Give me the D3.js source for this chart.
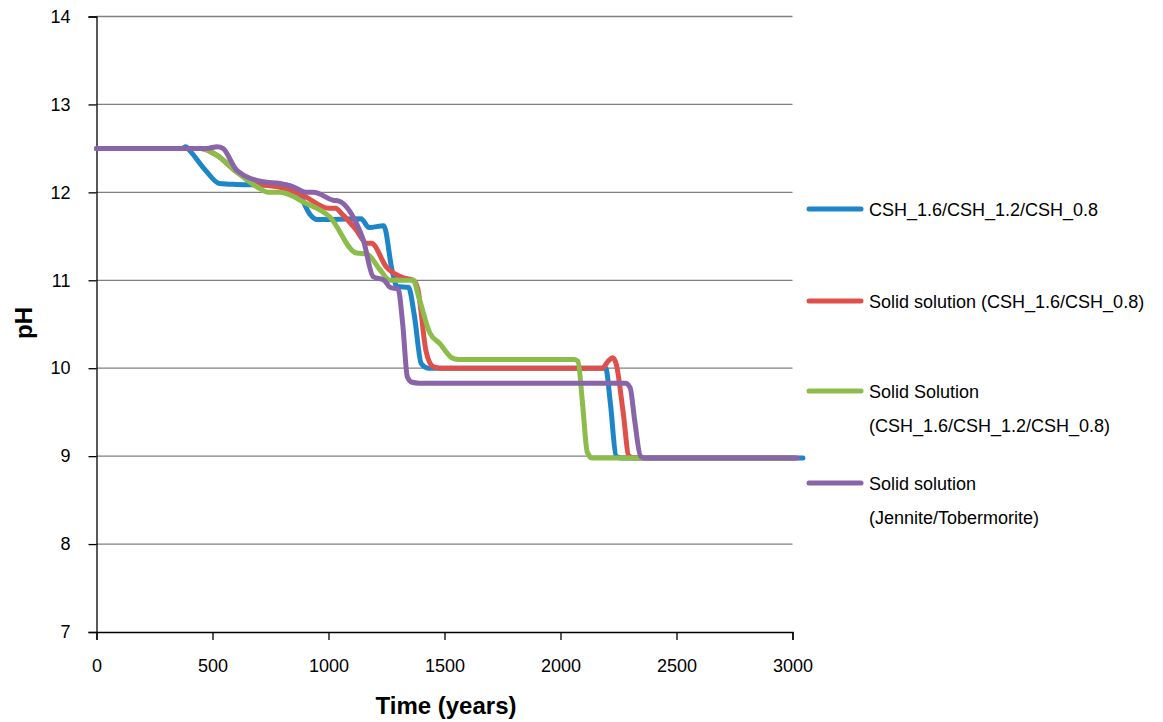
<!DOCTYPE html>
<html>
<head>
<meta charset="utf-8">
<script src="https://cdn.jsdelivr.net/npm/d3@7"></script>
<style>
  body { margin: 0; background: #fff; }
  svg text { font-family: "Liberation Sans", Arial, sans-serif; fill: #000; }
</style>
</head>
<body>
<div id="chart"></div>
<script>
// data: [time (years), pH]
const blue = [[0,12.5],[370,12.5],[385,12.52],[400,12.48],[470,12.25],[530,12.1],[600,12.09],[820,12.08],[870,12.0],[920,11.75],[950,11.69],[1140,11.7],[1175,11.6],[1238,11.62],[1275,11.1],[1295,10.93],[1345,10.92],[1370,10.6],[1400,10.05],[1430,10.0],[2195,10.0],[2215,9.6],[2240,9.0],[2260,8.98],[3045,8.98]]
const red = [[0,12.5],[450,12.5],[520,12.42],[600,12.24],[700,12.1],[800,12.05],[900,11.95],[1000,11.82],[1030,11.82],[1060,11.75],[1120,11.57],[1165,11.42],[1185,11.42],[1250,11.15],[1320,11.03],[1365,11.0],[1385,10.9],[1420,10.2],[1450,10.02],[1480,10.0],[2180,10.0],[2205,10.08],[2225,10.12],[2240,10.05],[2270,9.5],[2295,9.0],[2320,8.98],[3010,8.98]]
const green = [[0,12.5],[450,12.5],[530,12.4],[605,12.23],[700,12.05],[740,12.0],[790,12.0],[900,11.88],[1006,11.72],[1120,11.31],[1165,11.3],[1222,11.12],[1265,11.0],[1365,11.0],[1390,10.8],[1437,10.4],[1480,10.28],[1531,10.12],[1560,10.1],[2060,10.1],[2075,10.08],[2095,9.6],[2115,9.05],[2135,8.98],[3010,8.98]]
const purple = [[0,12.5],[480,12.5],[520,12.52],[545,12.5],[605,12.25],[718,12.12],[790,12.1],[850,12.06],[906,12.0],[935,12.0],[1020,11.91],[1045,11.9],[1120,11.65],[1150,11.46],[1193,11.04],[1240,11.0],[1265,10.92],[1300,10.9],[1320,10.5],[1340,9.9],[1360,9.84],[1390,9.83],[2280,9.83],[2300,9.78],[2320,9.4],[2345,9.0],[2365,8.98],[3020,8.98]]

const seriesNames = ["CSH_1.6/CSH_1.2/CSH_0.8", "Solid solution (CSH_1.6/CSH_0.8)", "Solid Solution|(CSH_1.6/CSH_1.2/CSH_0.8)", "Solid solution|(Jennite/Tobermorite)"]
const seriesColors = ["#1c86c8", "#e0504b", "#8cbd4b", "#8a64a8"]
const xTicks = [0, 500, 1000, 1500, 2000, 2500, 3000]
const yTicks = [7, 8, 9, 10, 11, 12, 13, 14]

// dimensions
const W = 1163, H = 722
const plotLeft = 96.5, plotRight = 792.5, plotTop = 16.5, plotBottom = 632

const svg = d3.select("#chart").append("svg").attr("width", W).attr("height", H)

const x = d3.scaleLinear().domain([0, 3000]).range([plotLeft, plotRight])
const y = d3.scaleLinear().domain([7, 14]).range([plotBottom, plotTop])

// gridlines
svg.append("g").selectAll("line").data(yTicks.slice(1)).join("line")
   .attr("x1", plotLeft).attr("x2", plotRight).attr("y1", d => y(d)).attr("y2", d => y(d))
   .attr("stroke", "#808080").attr("stroke-width", 1.3)

// y axis
const yAxis = svg.append("g").attr("transform", `translate(${plotLeft},0)`)
  .call(d3.axisLeft(y).tickValues(yTicks).tickFormat(d3.format("d")).tickSize(8).tickPadding(18))
yAxis.select(".domain").attr("stroke", "#000").attr("stroke-width", 1.3)
yAxis.selectAll(".tick line").attr("stroke", "#000").attr("stroke-width", 1.3)
yAxis.selectAll(".tick text").style("font-size", "18px")

// x axis
const xAxis = svg.append("g").attr("transform", `translate(0,${plotBottom})`)
  .call(d3.axisBottom(x).tickValues(xTicks).tickFormat(d3.format("d")).tickSize(8).tickPadding(19))
xAxis.select(".domain").attr("stroke", "#000").attr("stroke-width", 1.3)
xAxis.selectAll(".tick line").attr("stroke", "#000").attr("stroke-width", 1.3)
xAxis.selectAll(".tick text").style("font-size", "18px")

// lines
const line = d3.line().x(d => x(d[0])).y(d => y(d[1])).curve(d3.curveMonotoneX)
const allSeries = [blue, red, green, purple]
svg.append("g").selectAll("path").data(allSeries).join("path")
   .attr("d", line).attr("fill", "none")
   .attr("stroke", (d, i) => seriesColors[i]).attr("stroke-width", 5)
   .attr("stroke-linecap", "round").attr("stroke-linejoin", "round")

// axis titles
svg.append("text").attr("x", 446).attr("y", 714).attr("text-anchor", "middle")
   .style("font-size", "24px").style("font-weight", "bold").text("Time (years)")
svg.append("text").attr("transform", "translate(32,323) rotate(-90)").attr("text-anchor", "middle")
   .style("font-size", "24px").style("font-weight", "bold").text("pH")

// legend
const legendY = [209, 301, 391, 483]
const legend = svg.append("g").selectAll("g").data(seriesNames).join("g")
   .attr("transform", (d, i) => `translate(0,${legendY[i]})`)
legend.append("line").attr("x1", 809).attr("x2", 861).attr("y1", 0).attr("y2", 0)
   .attr("stroke", (d, i) => seriesColors[i]).attr("stroke-width", 5).attr("stroke-linecap", "round")
legend.each(function(d) {
  const g = d3.select(this)
  d.split("|").forEach((t, j) => {
    g.append("text").attr("x", 869).attr("y", 6.5 + j * 34).style("font-size", "18px").text(t)
  })
})
</script>
</body>
</html>
